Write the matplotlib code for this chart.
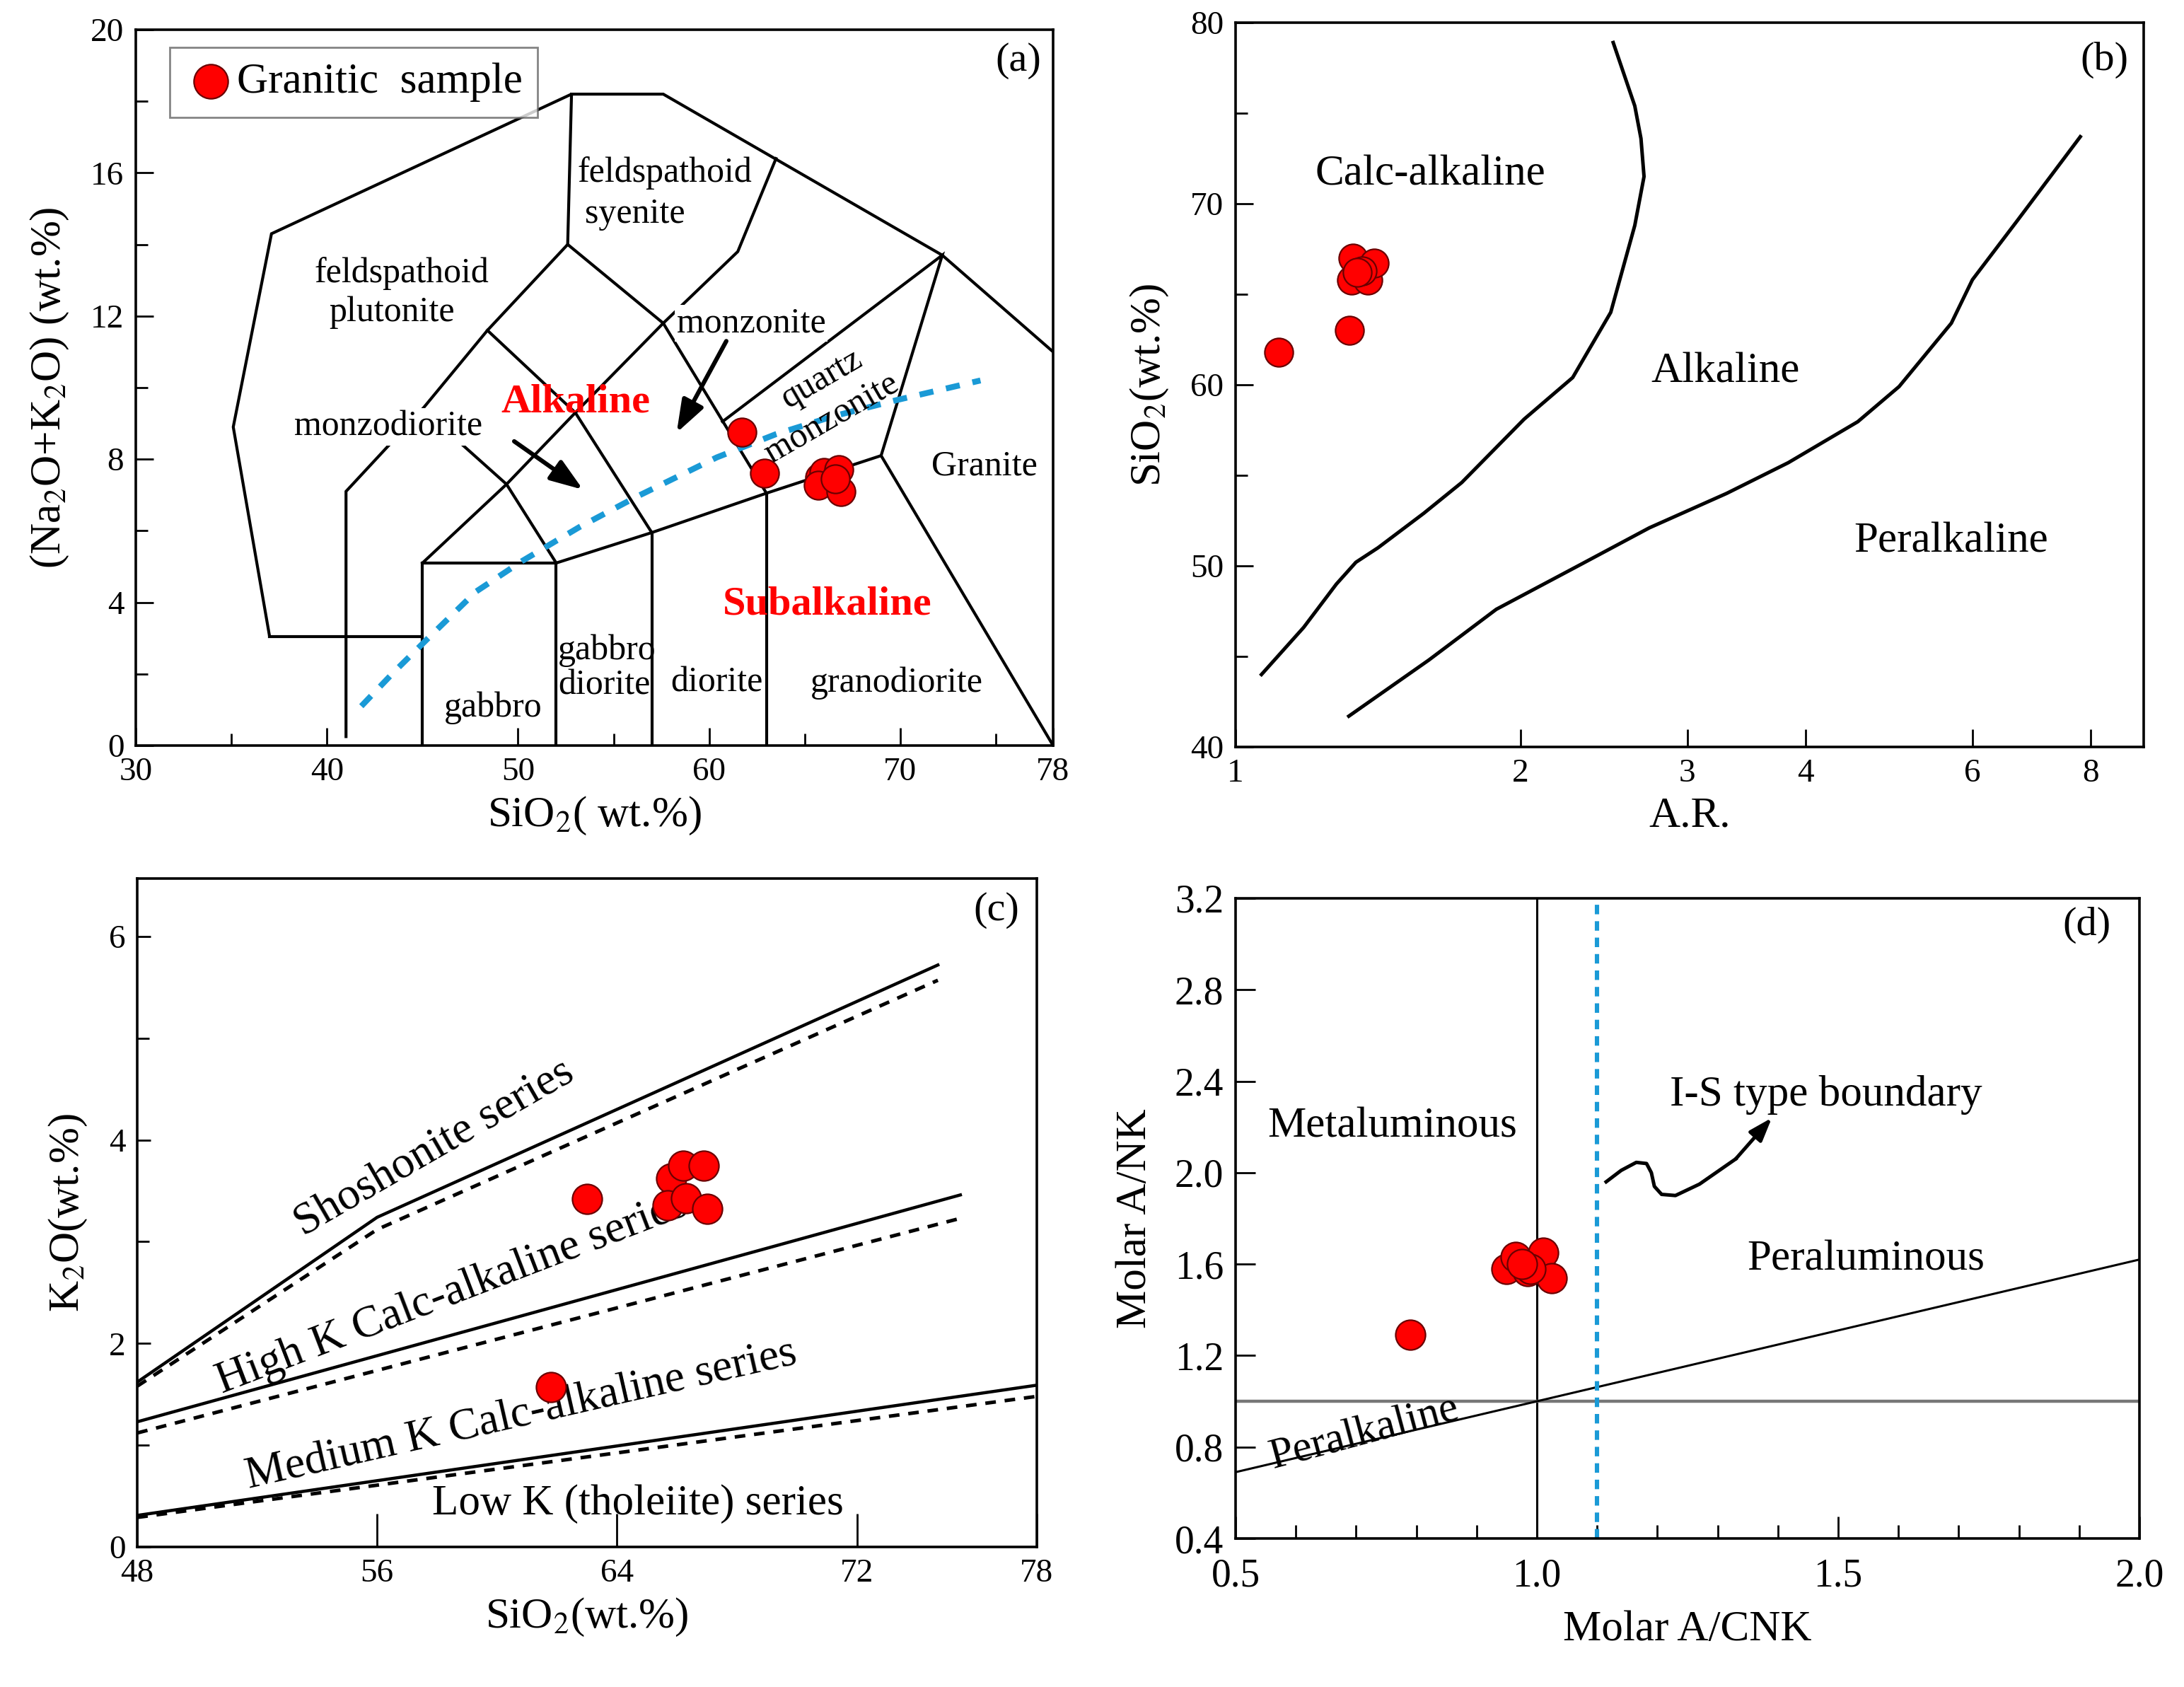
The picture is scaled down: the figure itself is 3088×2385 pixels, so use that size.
import numpy as np
import matplotlib
matplotlib.use('Agg')
import matplotlib.pyplot as plt
from matplotlib.ticker import FixedLocator, NullLocator, NullFormatter

plt.rcParams['font.family'] = ['Liberation Serif', 'DejaVu Serif']
plt.rcParams['mathtext.fontset'] = 'stix'

# ---------------- data ----------------
# (a) TAS plutonic diagram, samples
sio2_a = [61.7, 62.9, 65.8, 66.0, 65.7, 66.8, 66.9, 66.6]
alk_a = [8.75, 7.6, 7.5, 7.62, 7.27, 7.7, 7.1, 7.45]

# field boundaries of (a)
tas_lines = [
    [(37, 3.05), (35.1, 8.9), (37.1, 14.3), (52.8, 18.2), (57.6, 18.2), (72.2, 13.7), (78, 11.0)],
    [(37, 3.05), (45, 3.05)],
    [(45, 0), (45, 5.1), (52, 5.1), (52, 0)],
    [(52, 5.1), (57, 5.95), (63, 7.05), (69, 8.1), (78, 0)],
    [(57, 0), (57, 5.95)],
    [(63, 0), (63, 7.05)],
    [(41, 0.25), (41, 7.1), (45, 9.4), (48.4, 11.6), (52.6, 14.0), (52.8, 18.2)],
    [(45, 9.4), (49.4, 7.3), (52, 5.1)],
    [(48.4, 11.6), (53, 9.3), (57, 5.95)],
    [(45, 5.1), (49.4, 7.3), (53, 9.3), (57.6, 11.8)],
    [(52.6, 14.0), (57.6, 11.8), (63, 7.05)],
    [(57.6, 11.8), (61.5, 13.8), (63.5, 16.4)],
    [(60.7, 9.05), (72.2, 13.7), (69, 8.1)],
]
# alkaline / subalkaline divide
divide_x = [41.8, 43.5, 45.3, 47.8, 50.2, 53.2, 56.2, 60.4, 63.5, 66.5, 69.8, 74.2]
divide_y = [1.1, 2.05, 3.0, 4.3, 5.15, 6.1, 6.95, 8.05, 8.7, 9.2, 9.65, 10.2]

# (b) SiO2 vs A.R.
ar_b = [1.11, 1.32, 1.33, 1.326, 1.38, 1.40, 1.36, 1.345]
sio2_b = [61.8, 63.0, 67.0, 65.8, 65.8, 66.7, 66.3, 66.2]
calc_x = [1.065, 1.18, 1.278, 1.34, 1.414, 1.58, 1.733, 2.017, 2.27, 2.49, 2.64, 2.70, 2.68, 2.64, 2.505]
calc_y = [44.0, 46.6, 49.0, 50.2, 51.0, 52.9, 54.6, 58.1, 60.4, 64.0, 68.8, 71.5, 73.6, 75.4, 78.9]
peralk_x = [1.317, 1.6, 1.885, 2.3, 2.735, 3.3, 3.835, 4.54, 5.02, 5.70, 6.0, 6.70, 7.80]
peralk_y = [41.7, 44.8, 47.6, 50.0, 52.1, 54.0, 55.7, 57.96, 59.9, 63.4, 65.8, 69.1, 73.7]

# (c) K2O vs SiO2
sio2_c = [61.8, 63.0, 65.8, 66.2, 66.9, 65.7, 66.3, 67.0]
k2o_c = [1.57, 3.42, 3.62, 3.75, 3.75, 3.36, 3.43, 3.32]
shos_x, shos_y = [48, 56, 74.7], [1.62, 3.24, 5.72]
shos_dx, shos_dy = [48, 56, 74.7], [1.58, 3.12, 5.57]
highk_x, highk_y = [48, 75.45], [1.23, 3.46]
highk_dx, highk_dy = [48, 75.45], [1.12, 3.23]
medk_x, medk_y = [48, 78], [0.31, 1.59]
medk_dx, medk_dy = [48, 78], [0.29, 1.48]

# (d) A/NK vs A/CNK
acnk_d = [0.79, 0.95, 0.965, 0.985, 1.01, 1.025, 0.99, 0.975]
ank_d = [1.29, 1.58, 1.63, 1.57, 1.65, 1.54, 1.58, 1.60]
diag_x, diag_y = [0.5, 2.0], [0.69, 1.62]
is_boundary = 1.1
wave_x = [1.115, 1.14, 1.165, 1.182, 1.19, 1.195, 1.207, 1.23, 1.27, 1.33, 1.39]
wave_y = [1.96, 2.01, 2.045, 2.04, 2.0, 1.94, 1.905, 1.90, 1.95, 2.06, 2.24]

RED = '#ff0000'
EDGE = '#6a0000'
BLUE = '#1a9ad6'
W, H = 3088, 2385


def add_axes(fig, left, right, top, bottom):
    return fig.add_axes([left / W, 1 - bottom / H, (right - left) / W, (bottom - top) / H])


def style(ax, size=17):
    for s in ax.spines.values():
        s.set_linewidth(1.3)
    ax.tick_params(direction='in', top=False, right=False, labelsize=size,
                   width=1.0, length=9, pad=6)
    ax.tick_params(which='minor', direction='in', width=1.0, length=6)


def serif_ticks(ax):
    for lab in ax.get_xticklabels() + ax.get_yticklabels():
        lab.set_family(['Liberation Serif', 'DejaVu Serif'])


fig = plt.figure(figsize=(W / 200, H / 200), dpi=200)

# ---------------- (a) ----------------
ax = add_axes(fig, 192, 1489, 42, 1054)
for seg in tas_lines:
    xs, ys = zip(*seg)
    ax.plot(xs, ys, color='black', lw=1.5, zorder=2, solid_joinstyle='miter')
ax.plot(divide_x, divide_y, color=BLUE, lw=3.0, dashes=(2.4, 2.2), zorder=3)
ax.scatter(sio2_a, alk_a, s=210, color=RED, edgecolor=EDGE, lw=0.8, zorder=6,
           label='Granitic  sample')
ax.set_xlim(30, 78)
ax.set_ylim(0, 20)
ax.xaxis.set_major_locator(FixedLocator([30, 40, 50, 60, 70, 78]))
ax.xaxis.set_minor_locator(FixedLocator([35, 45, 55, 65, 75]))
ax.yaxis.set_major_locator(FixedLocator([0, 4, 8, 12, 16, 20]))
ax.yaxis.set_minor_locator(FixedLocator([2, 6, 10, 14, 18]))
style(ax)
ax.set_xlabel('SiO$_2$( wt.%)', fontsize=22, labelpad=4)
ax.set_ylabel('(Na$_2$O+K$_2$O) (wt.%)', fontsize=22, labelpad=10)

wb = dict(fc='white', ec='none', pad=1)
ax.text(53.1, 16.0, 'feldspathoid', fontsize=18, ha='left', va='center')
ax.text(53.5, 14.85, 'syenite', fontsize=18, ha='left', va='center')
ax.text(43.9, 13.2, 'feldspathoid', fontsize=18, ha='center', va='center')
ax.text(43.4, 12.1, 'plutonite', fontsize=18, ha='center', va='center')
ax.text(62.2, 11.8, 'monzonite', fontsize=18, ha='center', va='center', bbox=wb, zorder=4)
ax.text(43.2, 8.9, 'monzodiorite', fontsize=18, ha='center', va='center', bbox=wb, zorder=4)
ax.text(53.0, 9.6, 'Alkaline', fontsize=21, color='red', fontweight='bold',
        ha='center', va='center', zorder=5)
ax.text(65.9, 10.25, 'quartz', fontsize=18, rotation=30, ha='center', va='center', zorder=5)
ax.text(66.4, 9.15, 'monzonite', fontsize=18, rotation=30, ha='center', va='center', zorder=5)
ax.text(74.4, 7.8, 'Granite', fontsize=18, ha='center', va='center')
ax.text(66.2, 3.94, 'Subalkaline', fontsize=21, color='red', fontweight='bold',
        ha='center', va='center')
ax.text(54.65, 2.65, 'gabbro', fontsize=18, ha='center', va='center')
ax.text(54.5, 1.68, 'diorite', fontsize=18, ha='center', va='center')
ax.text(60.4, 1.75, 'diorite', fontsize=18, ha='center', va='center')
ax.text(69.8, 1.75, 'granodiorite', fontsize=18, ha='center', va='center')
ax.text(48.7, 1.05, 'gabbro', fontsize=18, ha='center', va='center')
ax.text(0.962, 0.957, '(a)', transform=ax.transAxes, fontsize=21, ha='center', va='center')
arr = dict(arrowstyle='-|>,head_length=1.4,head_width=0.5', color='black', lw=2.2,
           shrinkA=0, shrinkB=0)
ax.annotate('', xy=(58.3, 8.74), xytext=(60.9, 11.3), arrowprops=arr, zorder=5)
ax.annotate('', xy=(53.4, 7.15), xytext=(49.8, 8.5), arrowprops=arr, zorder=5)
leg = ax.legend(loc='upper left', bbox_to_anchor=(0.037, 0.975), fontsize=22,
                frameon=True, fancybox=False, edgecolor='#666666', borderaxespad=0,
                handletextpad=0.0, borderpad=0.35, markerscale=1.2, handlelength=1.2)
leg.get_frame().set_linewidth(1.0)
serif_ticks(ax)

# ---------------- (b) ----------------
ax = add_axes(fig, 1747, 3031, 32, 1056)
ax.plot(calc_x, calc_y, color='black', lw=1.8)
ax.plot(peralk_x, peralk_y, color='black', lw=1.8)
ax.scatter(ar_b, sio2_b, s=210, color=RED, edgecolor=EDGE, lw=0.8, zorder=6)
ax.set_xscale('log')
ax.set_xlim(1, 9.1)
ax.set_ylim(40, 80)
ax.xaxis.set_major_locator(FixedLocator([1, 2, 3, 4, 6, 8]))
ax.xaxis.set_major_formatter(plt.FuncFormatter(lambda v, p: '%d' % round(v)))
ax.xaxis.set_minor_locator(NullLocator())
ax.xaxis.set_minor_formatter(NullFormatter())
ax.yaxis.set_major_locator(FixedLocator([40, 50, 60, 70, 80]))
ax.yaxis.set_minor_locator(FixedLocator([45, 55, 65, 75]))
style(ax)
ax.set_xlabel('A.R.', fontsize=22, labelpad=4)
ax.set_ylabel('SiO$_2$(wt.%)', fontsize=22, labelpad=10)
ax.text(1.605, 71.6, 'Calc-alkaline', fontsize=22, ha='center', va='center')
ax.text(3.29, 60.7, 'Alkaline', fontsize=22, ha='center', va='center')
ax.text(5.7, 51.35, 'Peralkaline', fontsize=22, ha='center', va='center')
ax.text(0.957, 0.948, '(b)', transform=ax.transAxes, fontsize=21, ha='center', va='center')
serif_ticks(ax)

# ---------------- (c) ----------------
ax = add_axes(fig, 194, 1466, 1242, 2187)
for xs, ys in [(shos_x, shos_y), (highk_x, highk_y), (medk_x, medk_y)]:
    ax.plot(xs, ys, color='black', lw=1.6)
for xs, ys in [(shos_dx, shos_dy), (highk_dx, highk_dy), (medk_dx, medk_dy)]:
    ax.plot(xs, ys, color='black', lw=1.8, dashes=(3, 2.5))
ax.scatter(sio2_c, k2o_c, s=230, color=RED, edgecolor=EDGE, lw=0.8, zorder=6)
ax.set_xlim(48, 78)
ax.set_ylim(0, 6.57)
ax.xaxis.set_major_locator(FixedLocator([48, 56, 64, 72, 78]))
ax.yaxis.set_major_locator(FixedLocator([0, 2, 4, 6]))
ax.yaxis.set_minor_locator(FixedLocator([1, 3, 5]))
style(ax)
ax.tick_params(axis='y', which='major', length=7)
ax.tick_params(axis='x', length=17)
ax.set_xlabel('SiO$_2$(wt.%)', fontsize=22, labelpad=4)
ax.set_ylabel('K$_2$O(wt.%)', fontsize=22, labelpad=10)
ax.text(57.9, 3.92, 'Shoshonite series', fontsize=23, rotation=30, ha='center', va='center')
ax.text(58.5, 2.49, 'High K Calc-alkaline series', fontsize=23, rotation=21,
        ha='center', va='center')
ax.text(60.8, 1.29, 'Medium K Calc-alkaline series', fontsize=23, rotation=12.8,
        ha='center', va='center')
ax.text(64.7, 0.42, 'Low K (tholeiite) series', fontsize=22, ha='center', va='center')
ax.text(0.955, 0.952, '(c)', transform=ax.transAxes, fontsize=21, ha='center', va='center')
serif_ticks(ax)

# ---------------- (d) ----------------
ax = add_axes(fig, 1747, 3025, 1270, 2175)
ax.axvline(1.0, color='black', lw=1.1)
ax.axhline(1.0, color='#777777', lw=1.6)
ax.plot(diag_x, diag_y, color='black', lw=1.1)
ax.axvline(is_boundary, color=BLUE, lw=2.2, dashes=(2.2, 1.6))
ax.plot(wave_x[:-1], wave_y[:-1], color='black', lw=1.8)
ax.annotate('', xy=(wave_x[-1], wave_y[-1]), xytext=(wave_x[-2], wave_y[-2]),
            arrowprops=dict(arrowstyle='-|>,head_length=1.0,head_width=0.35',
                            color='black', lw=1.8, shrinkA=0, shrinkB=0))
ax.scatter(acnk_d, ank_d, s=230, color=RED, edgecolor=EDGE, lw=0.8, zorder=6)
ax.set_xlim(0.5, 2.0)
ax.set_ylim(0.4, 3.2)
ax.xaxis.set_major_locator(FixedLocator([0.5, 1.0, 1.5, 2.0]))
ax.xaxis.set_minor_locator(FixedLocator([0.6, 0.7, 0.8, 0.9, 1.1, 1.2, 1.3, 1.4,
                                         1.6, 1.7, 1.8, 1.9]))
ax.xaxis.set_major_formatter(plt.FuncFormatter(lambda v, p: '%.1f' % v))
ax.yaxis.set_major_locator(FixedLocator([0.4, 0.8, 1.2, 1.6, 2.0, 2.4, 2.8, 3.2]))
ax.yaxis.set_minor_locator(NullLocator())
ax.yaxis.set_major_formatter(plt.FuncFormatter(lambda v, p: '%.1f' % v))
style(ax, size=20)
ax.tick_params(axis='y', which='major', length=10)
ax.tick_params(axis='x', which='major', length=11, pad=10)
ax.tick_params(axis='x', which='minor', length=7)
ax.set_xlabel('Molar A/CNK', fontsize=22, labelpad=8)
ax.set_ylabel('Molar A/NK', fontsize=22, labelpad=10)
ax.text(0.76, 2.2, 'Metaluminous', fontsize=22, ha='center', va='center')
ax.text(1.48, 2.34, 'I-S type boundary', fontsize=22, ha='center', va='center')
ax.text(1.546, 1.62, 'Peraluminous', fontsize=22, ha='center', va='center')
ax.text(0.714, 0.86, 'Peralkaline', fontsize=22, rotation=15, ha='center', va='center')
ax.text(0.942, 0.958, '(d)', transform=ax.transAxes, fontsize=21, ha='center', va='center')
serif_ticks(ax)

fig.savefig('out.png', dpi=200, facecolor='white')
